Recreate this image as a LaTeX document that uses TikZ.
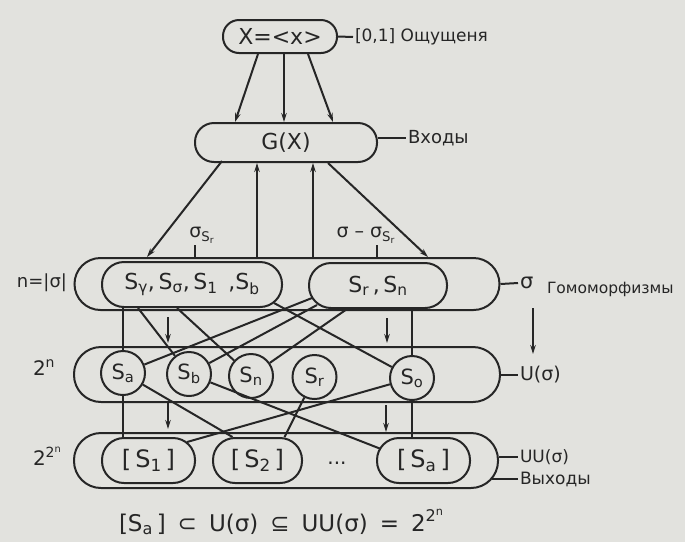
\documentclass[tikz,border=0pt]{standalone}
\usepackage{fontspec}
\setmainfont{DejaVu Sans}
\usetikzlibrary{arrows.meta,calc}
\definecolor{bg}{RGB}{226,226,222}
\definecolor{ink}{RGB}{38,38,38}
\newcommand\sbx[1]{\textsubscript{#1}}
\newcommand\fs[1]{\fontsize{#1}{#1}\selectfont}
\begin{document}
\begin{tikzpicture}[x=1pt,y=-1pt,line width=2pt,color=ink,
  box/.style={draw,inner sep=0pt,text=ink},
  circ/.style={draw,circle,minimum size=44pt,inner sep=0pt,text=ink},
  arr/.style={-{Stealth[length=9pt,width=5.5pt]}},
  lab/.style={inner sep=1pt,text=ink}]
\fill[bg] (0,0) rectangle (685,542);
\useasboundingbox (0,0) rectangle (685,542);

% top nodes
\node[box,minimum width=114pt,minimum height=33pt,rounded corners=16pt] (X) at (280,36.5) {\fs{22}X=<x>};
\node[box,minimum width=182pt,minimum height=39pt,rounded corners=19pt] (G) at (286,142.5) {\fs{22}G(X)};

% sigma layer
\node[box,minimum width=425pt,minimum height=52pt,rounded corners=26pt] (sig) at (287,284) {};
\node[box,minimum width=180pt,minimum height=45pt,rounded corners=22pt] (b1) at (192,284.5)
  {\fs{22}S\sbx{γ},\,S\sbx{σ},\,S\sbx{1}\, ,S\sbx{b}};
\node[box,minimum width=138pt,minimum height=45pt,rounded corners=22pt] (b2) at (378,285.5)
  {\fs{22}S\sbx{r}\,,\,S\sbx{n}};

% U layer
\node[box,minimum width=426pt,minimum height=55pt,rounded corners=27pt] (U) at (287,374.5) {};
\node[circ] (Sa) at (123,373) {\fs{21}S\sbx{a}};
\node[circ] (Sb) at (189,374) {\fs{21}S\sbx{b}};
\node[circ] (Sn) at (251,376) {\fs{21}S\sbx{n}};
\node[circ] (Sr) at (314.5,377) {\fs{21}S\sbx{r}};
\node[circ] (So) at (412,378) {\fs{21}S\sbx{o}};

% UU layer
\node[box,minimum width=424pt,minimum height=55pt,rounded corners=27pt] (UU) at (286,460.5) {};
\node[box,minimum width=93pt,minimum height=45pt,rounded corners=22pt] (S1) at (148.5,460.5) {\fs{24}[\,S\sbx{1}\,]};
\node[box,minimum width=89pt,minimum height=45pt,rounded corners=22pt] (S2) at (257.5,460.5) {\fs{24}[\,S\sbx{2}\,]};
\node[box,minimum width=93pt,minimum height=45pt,rounded corners=22pt] (SaB) at (423.5,460.5) {\fs{24}[\,S\sbx{a}\,]};
\node[lab] (dots) at (337,463) {\fs{20}...};

% X -> G
\draw[arr] ([xshift=-22pt]X.south) -- ([xshift=-51pt]G.north);
\draw[arr] ([xshift=4pt]X.south) -- ([xshift=-2pt]G.north);
\draw[arr] ([xshift=28pt]X.south) -- ([xshift=47pt]G.north);

% G <-> sigma
\draw[arr] ([xshift=-64pt,yshift=2pt]G.south) -- ([xshift=-140pt]sig.north);
\draw[arr] ([xshift=42pt]G.south) -- ([xshift=141pt]sig.north);
\draw[arr] ([xshift=-30pt]sig.north) -- ([xshift=-30pt]sig.north |- G.south);
\draw[arr] ([xshift=26pt]sig.north) -- ([xshift=26pt]sig.north |- G.south);

% sigma labels with ticks
\node[lab] (ls) at (202,235) {\fs{19}σ\sbx{S\sbx{r}}};
\node[lab] (lr) at (366,235) {\fs{19}σ – σ\sbx{S\sbx{r}}};
\draw ([xshift=-7pt]ls.south) -- ([xshift=-7pt]ls.south |- sig.north);
\draw ([xshift=11pt]lr.south) -- ([xshift=11pt]lr.south |- sig.north);

% side labels
\node[lab,anchor=west] (lX) at (353,37) {\fs{17}[0,1] Ощущеня};
\draw (X.east) -- (lX.west);
\node[lab,anchor=west] (lG) at (406,138) {\fs{18}Входы};
\draw (lG.west -| G.east) -- (lG.west);
\node[lab,anchor=west] (lS) at (518,283) {\fs{21}σ};
\draw (sig.east) -- (lS.west);
\node[lab,anchor=west] (hom) at (545,289) {\fs{15.5}Гомоморфизмы};
\node[lab,anchor=west] (lU) at (518,375) {\fs{19}U(σ)};
\draw (lU.west -| U.east) -- (lU.west);
\node[lab,anchor=west] (lUU) at (518,457) {\fs{17}UU(σ)};
\node[lab,anchor=west] (lout) at (518,479) {\fs{17}Выходы};
\draw ([yshift=3.5pt]UU.east) -- (lUU.west);
\draw ([xshift=-7pt,yshift=-18.5pt]UU.east) -- (lout.west);

% left labels
\node[lab] (ln) at (42,283) {\fs{18}n=|σ|};
\node[lab,anchor=base west] (l2n) at (31,375) {\fs{20}2\textsuperscript{n}};
\node[lab,anchor=base west] (l22n) at (31,465) {\fs{20}2\textsuperscript{2\textsuperscript{n}}};

% sigma -> U connectors
\draw (b1.south -| Sa.north) -- (Sa);
\draw ([xshift=-54pt]b1.south) -- (Sb);
\draw ([xshift=-15pt]b1.south) -- (Sn);
\draw ([xshift=82pt,yshift=5pt]b1.south) -- (So);
\draw ([xshift=-66pt,yshift=11pt]b2.south) -- (Sa);
\draw ([xshift=-61pt,yshift=4pt]b2.south) -- (Sb);
\draw ([xshift=-31pt]b2.south) -- (Sn);
\draw (b2.south -| So.north) -- (So);

% U -> UU connectors
\draw (Sa) -- (Sa.south |- S1.north);
\draw (Sa) -- ([xshift=-25pt]S2.north);
\draw (Sb) -- ([xshift=-42.5pt,yshift=-12pt]SaB.north);
\draw (Sr) -- ([xshift=27pt]S2.north);
\draw (So) -- ([xshift=38.5pt,yshift=-5pt]S1.north);
\draw (So) -- (So.south |- SaB.north);

% short direction arrows
\coordinate (a1s) at (168,317); \coordinate (a1e) at (168,343);
\coordinate (a2s) at (387,318); \coordinate (a2e) at (387,343);
\coordinate (a3s) at (168,403); \coordinate (a3e) at (168,429);
\coordinate (a4s) at (386,405); \coordinate (a4e) at (386,432);
\coordinate (a5s) at (533,308); \coordinate (a5e) at (533,354);
\draw[arr] (a1s) -- (a1e);
\draw[arr] (a2s) -- (a2e);
\draw[arr] (a3s) -- (a3e);
\draw[arr] (a4s) -- (a4e);
\draw[arr] (a5s) -- (a5e);

% bottom formula
\node[lab,anchor=base west] (formula) at (117,531)
  {\fs{23}[S\sbx{a}\,]\hspace{12pt}⊂\hspace{12pt}U(σ)\hspace{12pt}⊆\hspace{12pt}UU(σ)\hspace{12pt}=\hspace{12pt}2\textsuperscript{2\textsuperscript{n}}};
\end{tikzpicture}
\end{document}
